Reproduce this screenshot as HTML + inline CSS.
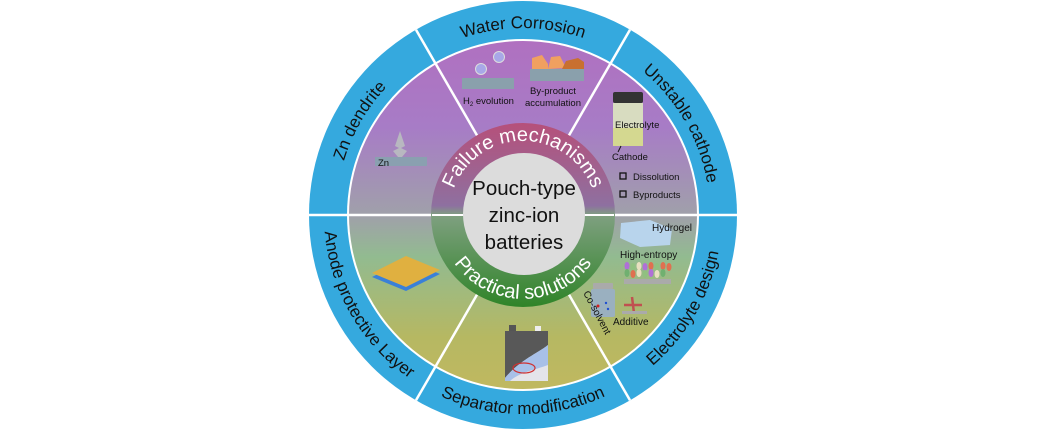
<!DOCTYPE html>
<html><head><meta charset="utf-8"><style>
html,body{margin:0;padding:0;background:#fff;}
svg{display:block;font-family:"Liberation Sans",sans-serif;}
</style></head><body>
<svg width="1050" height="430" viewBox="0 0 1050 430" xmlns="http://www.w3.org/2000/svg">
<defs>
<linearGradient id="bg" x1="0" y1="40" x2="0" y2="390" gradientUnits="userSpaceOnUse">
<stop offset="0" stop-color="#b070c0"/>
<stop offset="0.25" stop-color="#a77cc6"/>
<stop offset="0.5" stop-color="#a0a0aa"/>
<stop offset="0.62" stop-color="#92bb90"/>
<stop offset="0.85" stop-color="#b6b862"/>
<stop offset="1" stop-color="#c0b860"/>
</linearGradient>
<linearGradient id="mid" x1="0" y1="123" x2="0" y2="307" gradientUnits="userSpaceOnUse">
<stop offset="0" stop-color="#b6507a"/>
<stop offset="0.45" stop-color="#8e70a0"/>
<stop offset="0.5" stop-color="#7fa080"/>
<stop offset="1" stop-color="#2f8428"/>
</linearGradient>
<path id="pTop" d="M361.1,121.5 A187,187 0 0 1 684.9,121.5"/>
<path id="pUR" d="M571.4,34.4 A187,187 0 0 1 703.6,263.4"/>
<path id="pUL" d="M342.4,263.4 A187,187 0 0 1 474.6,34.4"/>
<path id="pBot" d="M382.3,355.7 A199,199 0 0 0 663.7,355.7"/>
<path id="pLR" d="M574.5,407.2 A199,199 0 0 0 715.2,163.5"/>
<path id="pLL" d="M330.8,163.5 A199,199 0 0 0 471.5,407.2"/>
<path id="pFail" d="M450.1,202.2 A74,74 0 0 1 595.9,202.2"/>
<path id="pPrac" d="M440.3,229.6 A84,84 0 0 0 605.7,229.6"/>
</defs>
<circle cx="523" cy="215" r="214" fill="#35a9de"/>
<circle cx="523" cy="215" r="176" fill="#fff"/>
<circle cx="523" cy="215" r="174" fill="url(#bg)"/>
<g stroke="#fff" stroke-width="2.5">
<line x1="309" y1="215" x2="737" y2="215"/>
<line x1="523" y1="215" x2="416" y2="29.7"/>
<line x1="523" y1="215" x2="630" y2="29.7"/>
<line x1="523" y1="215" x2="416" y2="400.3"/>
<line x1="523" y1="215" x2="630" y2="400.3"/>
</g>
<circle cx="523" cy="215" r="92" fill="url(#mid)"/>
<line x1="432" y1="215" x2="614" y2="215" stroke="#fff" stroke-width="2"/>
<circle cx="524" cy="214" r="61" fill="#dcdcdc"/>
<g font-size="17" fill="#111">
<text><textPath href="#pTop" startOffset="50%" text-anchor="middle">Water Corrosion</textPath></text>
<text><textPath href="#pUR" startOffset="50%" text-anchor="middle">Unstable cathode</textPath></text>
<text><textPath href="#pUL" startOffset="50%" text-anchor="middle">Zn dendrite</textPath></text>
<text><textPath href="#pBot" startOffset="50%" text-anchor="middle">Separator modification</textPath></text>
<text><textPath href="#pLR" startOffset="50%" text-anchor="middle">Electrolyte design</textPath></text>
<text><textPath href="#pLL" startOffset="50%" text-anchor="middle">Anode protective Layer</textPath></text>
</g>
<g font-size="20" fill="#fff">
<text><textPath href="#pFail" startOffset="50%" text-anchor="middle">Failure mechanisms</textPath></text>
<text><textPath href="#pPrac" startOffset="50%" text-anchor="middle">Practical solutions</textPath></text>
</g>
<g font-size="20.5" fill="#111" text-anchor="middle">
<text x="524" y="195">Pouch-type</text>
<text x="524" y="222">zinc-ion</text>
<text x="524" y="249">batteries</text>
</g>
<rect x="462" y="78" width="52" height="11" fill="#8aa0ac"/>
<circle cx="481" cy="69" r="5.5" fill="#a8a8e8" stroke="#ddd"/>
<circle cx="499" cy="57" r="5.5" fill="#a8a8e8" stroke="#ddd"/>
<rect x="530" y="69" width="54" height="12" fill="#8aa0ac"/>
<polygon points="532,69 532,58 542,55 548,64 548,69" fill="#f0a060"/>
<polygon points="548,69 551,57 560,56 566,68" fill="#f0a060"/>
<polygon points="562,69 566,61 578,58 584,62 584,69" fill="#c87030"/>
<g font-size="9.5" fill="#111">
<text x="463" y="104">H<tspan font-size="6" dy="2">2</tspan><tspan dy="-2"> evolution</tspan></text>
<text x="530" y="94">By-product</text>
<text x="525" y="106">accumulation</text>
</g>
<rect x="375" y="157" width="52" height="9" fill="#8aa0b0"/>
<polygon points="400,131 403,140 405,146 401,148 407,151 402,157 398,157 393,151 399,148 395,146 397,140" fill="#b8b8c0"/>
<text x="378" y="166" font-size="9.5" fill="#111">Zn</text>
<rect x="613" y="92" width="30" height="11" fill="#333" rx="2"/>
<rect x="613" y="103" width="30" height="43" fill="#d8dcc0"/>
<rect x="613" y="128" width="30" height="18" fill="#d4d890"/>
<line x1="621" y1="146" x2="618" y2="152" stroke="#111"/>
<g font-size="9.5" fill="#111">
<text x="615" y="128">Electrolyte</text>
<text x="612" y="160">Cathode</text>
<text x="633" y="180">Dissolution</text>
<text x="633" y="198">Byproducts</text>
</g>
<rect x="620" y="173" width="6" height="6" fill="none" stroke="#111" stroke-width="1.3"/>
<rect x="620" y="191" width="6" height="6" fill="none" stroke="#111" stroke-width="1.3"/>
<polygon points="621,223 650,220 672,229 670,245 640,247 620,238" fill="#b8d4ec"/>
<text x="652" y="231" font-size="10" fill="#111">Hydrogel</text>
<text x="620" y="258" font-size="10" fill="#111">High-entropy</text>
<g>
<ellipse cx="627" cy="266" rx="2.5" ry="4" fill="#b070d8"/><ellipse cx="633" cy="267" rx="2.5" ry="4" fill="#90c080"/><ellipse cx="639" cy="266" rx="2.5" ry="4" fill="#e8e0c0"/><ellipse cx="645" cy="267" rx="2.5" ry="4" fill="#b070d8"/><ellipse cx="651" cy="266" rx="2.5" ry="4" fill="#e07050"/><ellipse cx="657" cy="267" rx="2.5" ry="4" fill="#90c080"/><ellipse cx="663" cy="266" rx="2.5" ry="4" fill="#e07050"/><ellipse cx="669" cy="267" rx="2.5" ry="4" fill="#e07050"/>
<ellipse cx="627" cy="273" rx="2.5" ry="4" fill="#70b070"/><ellipse cx="633" cy="274" rx="2.5" ry="4" fill="#e07050"/><ellipse cx="639" cy="273" rx="2.5" ry="4" fill="#e8e0c0"/><ellipse cx="645" cy="274" rx="2.5" ry="4" fill="#90c080"/><ellipse cx="651" cy="273" rx="2.5" ry="4" fill="#b070d8"/><ellipse cx="657" cy="274" rx="2.5" ry="4" fill="#e8e0c0"/><ellipse cx="663" cy="273" rx="2.5" ry="4" fill="#70b070"/>
</g>
<rect x="624" y="279" width="47" height="5" fill="#aaa"/>
<rect x="593" y="283" width="20" height="6" fill="#aaa" rx="1"/>
<rect x="591" y="289" width="24" height="28" fill="#9ab0c0" rx="2"/>
<circle cx="598" cy="306" r="1.5" fill="#d02020"/><circle cx="606" cy="303" r="1.2" fill="#2050d0"/><circle cx="608" cy="309" r="1.2" fill="#2050d0"/>
<path d="M632,297 L634,313 M624,305 L642,305" stroke="#c05050" stroke-width="2.5"/>
<rect x="622" y="311" width="25" height="3" fill="#aaa"/>
<text x="613" y="325" font-size="10" fill="#111">Additive</text>
<text x="0" y="0" font-size="10" fill="#111" transform="translate(583,293) rotate(62)">Co-solvent</text>
<polygon points="372,277 406,260 440,274 406,291" fill="#3a80d8"/>
<polygon points="372,273 406,256 440,270 406,287" fill="#e0b040"/>
<rect x="509" y="325" width="7" height="7" fill="#555"/>
<rect x="535" y="326" width="6" height="6" fill="#eee"/>
<rect x="505" y="331" width="43" height="50" fill="#e4e4ea"/>
<path d="M505,331 L548,331 L548,345 C535,355 520,360 505,378 Z" fill="#585858"/>
<path d="M505,378 C520,360 535,355 548,345 L548,365 C535,370 520,372 510,381 L505,381 Z" fill="#a8c0e8"/>
<ellipse cx="524" cy="368" rx="11" ry="5" fill="none" stroke="#d03030" stroke-width="1.2"/>
</svg>
</body></html>
